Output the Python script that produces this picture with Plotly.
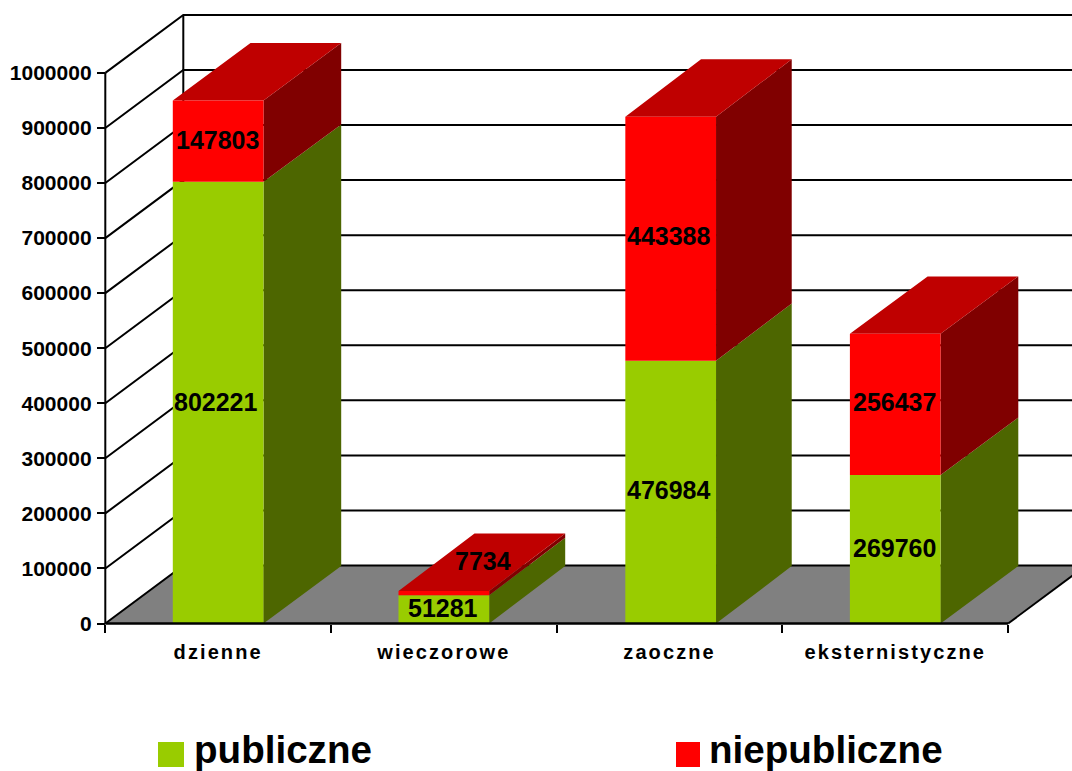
import plotly.graph_objects as go

categories = ["dzienne", "wieczorowe", "zaoczne", "eksternistyczne"]
publiczne = [802221, 51281, 476984, 269760]
niepubliczne = [147803, 7734, 443388, 256437]
y_ticks = [0, 100000, 200000, 300000, 400000, 500000, 600000, 700000, 800000, 900000, 1000000]
bar_centers = [0.5, 1.5, 2.505, 3.5]
bar_depth_px = [77.7, 76.0, 75.7, 77.7]
label_shifts_pub = [(-2, 1), (-1, 1), (-1, 2), (-1, 1)]
label_shifts_nie = [(-1, 1), (39, 32), (-1, 3), (-1, 2)]

W, H = 1072, 771
X0, XU = 105.3, 225.7       # pixel of category 0, pixels per category
Y0, YU = 623.5, 550.6e-6    # pixel of value 0, pixels per unit
WALL_DX, WALL_DY = 78 / XU, 58 / YU
BAR_DY = 57.4 / YU
BAR_W = 90.7 / XU

GREEN, GREEN_SIDE = "#99CC00", "#4D6600"
RED, RED_SIDE, RED_TOP = "#FF0000", "#800000", "#BF0000"
FONT = "Liberation Sans"

fig = go.Figure()


def poly(polys, color, name):
    xs, ys = [], []
    for p in polys:
        xs += [c[0] for c in p] + [p[0][0], None]
        ys += [c[1] for c in p] + [p[0][1], None]
    fig.add_trace(go.Scatter(x=xs, y=ys, mode="lines", fill="toself", fillcolor=color,
                             line=dict(width=0, color=color), name=name,
                             hoverinfo="skip", showlegend=False))


def lines(segs, width, name):
    xs, ys = [], []
    for s in segs:
        xs += [c[0] for c in s] + [None]
        ys += [c[1] for c in s] + [None]
    fig.add_trace(go.Scatter(x=xs, y=ys, mode="lines", line=dict(color="black", width=width),
                             name=name, hoverinfo="skip", showlegend=False))


n = len(categories)
# floor
poly([[(0, 0), (n, 0), (n + WALL_DX, WALL_DY), (WALL_DX, WALL_DY)]], "#808080", "floor")
# walls: gridlines run along the side wall and the back wall
lines([[(0, v), (WALL_DX, v + WALL_DY), (n + WALL_DX, v + WALL_DY)] for v in y_ticks], 2, "grid")
lines([[(0, 0), (0, y_ticks[-1])],
       [(WALL_DX, WALL_DY), (WALL_DX, y_ticks[-1] + WALL_DY)],
       [(n, 0), (n + WALL_DX, WALL_DY)]], 2, "walls")


def front(c, lo, hi):
    l, r = c - BAR_W / 2, c + BAR_W / 2
    return [(l, lo), (r, lo), (r, hi), (l, hi)]


def side(c, d, lo, hi):
    r = c + BAR_W / 2
    return [(r, lo), (r + d, lo + BAR_DY), (r + d, hi + BAR_DY), (r, hi)]


def top(c, d, v):
    l, r = c - BAR_W / 2, c + BAR_W / 2
    return [(l, v), (r, v), (r + d, v + BAR_DY), (l + d, v + BAR_DY)]


totals = [a + b for a, b in zip(publiczne, niepubliczne)]
depths = [d / XU for d in bar_depth_px]
poly([side(c, d, 0, a) for c, d, a in zip(bar_centers, depths, publiczne)], GREEN_SIDE, "publiczne side")
poly([front(c, 0, a) for c, a in zip(bar_centers, publiczne)], GREEN, "publiczne")
poly([side(c, d, a, t) for c, d, a, t in zip(bar_centers, depths, publiczne, totals)], RED_SIDE, "niepubliczne side")
poly([top(c, d, t) for c, d, t in zip(bar_centers, depths, totals)], RED_TOP, "niepubliczne top")
poly([front(c, a, t) for c, a, t in zip(bar_centers, publiczne, totals)], RED, "niepubliczne")
lines([[(0, 0), (n, 0)]], 2.5, "axis")

annotations = []
for i in range(n):
    for val, base, sh in ((publiczne[i], 0, label_shifts_pub[i]),
                          (niepubliczne[i], publiczne[i], label_shifts_nie[i])):
        annotations.append(dict(x=i + 0.5, y=base + val / 2, text=str(val), showarrow=False,
                                xshift=sh[0], yshift=sh[1],
                                font=dict(family=FONT, size=25, color="black", weight=700)))

# legend
legend = [("publiczne", GREEN, 158, 184, 191.5), ("niepubliczne", RED, 676, 700, 707)]
shapes = []
for name, color, a, b, tx in legend:
    shapes.append(dict(type="rect", xref="paper", yref="paper", x0=a / W, x1=b / W,
                       y0=1 - 767 / H, y1=1 - 742 / H, fillcolor=color, line_width=0))
    annotations.append(dict(xref="paper", yref="paper", x=tx / W, y=1 - 749 / H, text=name,
                            xanchor="left", yanchor="middle", showarrow=False,
                            font=dict(family=FONT, size=38.6, color="black", weight=700)))

fig.update_layout(
    width=W, height=H, autosize=False, margin=dict(l=0, r=0, t=0, b=0),
    paper_bgcolor="white", plot_bgcolor="white", showlegend=False,
    annotations=annotations, shapes=shapes,
    xaxis=dict(domain=[0, 1], range=[-X0 / XU, (W - X0) / XU], showgrid=False, zeroline=False,
               showline=False, tickmode="array",
               tickvals=[i + 0.5 for i in range(n)], ticktext=categories, ticks="",
               anchor="free", position=1 - Y0 / H, ticklabelstandoff=14,
               tickfont=dict(family=FONT, size=20, color="black", weight=700),
               minor=dict(tickmode="array", tickvals=list(range(n + 1)), ticks="outside",
                          ticklen=8.5, tickwidth=2, tickcolor="black")),
    yaxis=dict(domain=[0, 1], range=[-(H - Y0) / YU, Y0 / YU], showgrid=False, zeroline=False,
               showline=False, tickmode="array", tickvals=y_ticks,
               ticktext=[str(v) for v in y_ticks], ticks="outside", ticklen=8.5, tickwidth=2,
               tickcolor="black", anchor="free", position=X0 / W, ticklabelstandoff=1,
               tickfont=dict(family=FONT, size=21, color="black", weight=700)),
)

post = """
document.body.style.margin = '0';
document.querySelectorAll('.xtick text').forEach(function (t) { t.style.letterSpacing = '2.1px'; });
"""
fig.write_html("out.html", post_script=post, config={"displayModeBar": False})
